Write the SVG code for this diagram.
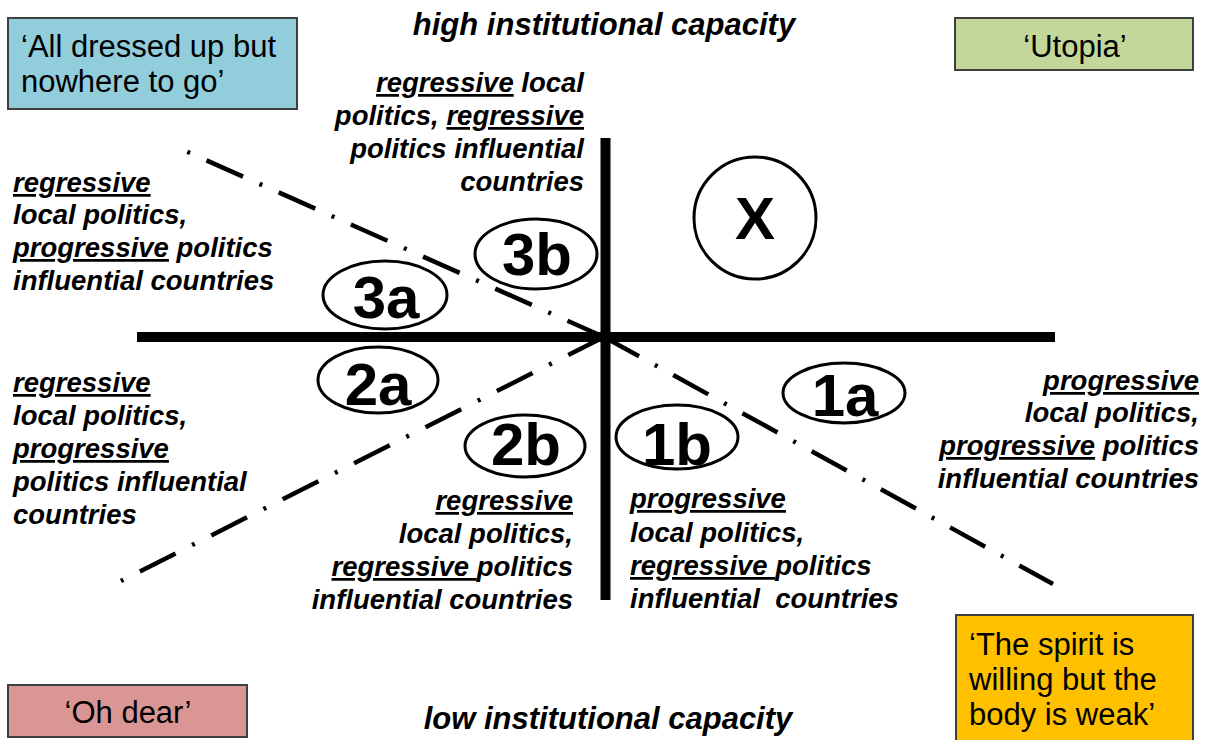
<svg xmlns="http://www.w3.org/2000/svg" width="1210" height="740" viewBox="0 0 1210 740">
<style>
.lbl{font-family:"Liberation Sans",Arial,sans-serif;font-weight:bold;font-style:italic;font-size:27.5px;fill:#000}
.end{text-anchor:end}
.u{text-decoration:underline}
.cap{font-family:"Liberation Sans",Arial,sans-serif;font-weight:bold;font-style:italic;font-size:31px;fill:#000;text-anchor:middle}
.box{stroke:#3f3f3f;stroke-width:2}
.boxt{font-family:"Liberation Sans",Arial,sans-serif;font-size:31px;fill:#000}
.mid{text-anchor:middle}
.oval{fill:none;stroke:#000;stroke-width:3}
.num{font-family:"Liberation Sans",Arial,sans-serif;font-weight:bold;font-size:60px;fill:#000;text-anchor:middle}
.axis{stroke:#000;stroke-width:10;fill:none}
.dd{stroke:#000;stroke-width:4.5;stroke-dasharray:40 18 3 18;fill:none}
</style>
<rect width="1210" height="740" fill="#fff"/>

<g id="connectors">
  <path class="dd" d="M604,337 L186.4,151.4"/>
  <path class="dd" d="M604,337 L1053,584"/>
  <path class="dd" d="M604,337 L121,581" style="stroke-dasharray:40 18.5 3 18.5"/>
  <path class="axis" d="M137,337 H1055"/>
  <path class="axis" d="M605.5,138 V600"/>
</g>

<g id="axis-high"><text class="cap" x="604" y="35">high institutional capacity</text></g>
<g id="axis-low"><text class="cap" x="608" y="729">low institutional capacity</text></g>

<g id="box-dressed">
  <rect class="box" x="8" y="18" width="289" height="91" fill="#92CDDC"/>
  <text class="boxt" x="21" y="57">‘All dressed up but</text>
  <text class="boxt" x="21" y="92">nowhere to go’</text>
</g>
<g id="box-utopia">
  <rect class="box" x="955" y="18" width="238" height="52" fill="#C4D79B"/>
  <text class="boxt mid" x="1075" y="57">‘Utopia’</text>
</g>
<g id="box-ohdear">
  <rect class="box" x="8" y="685" width="239" height="52" fill="#DA9694"/>
  <text class="boxt mid" x="128" y="723">‘Oh dear’</text>
</g>
<g id="box-spirit">
  <rect class="box" x="956" y="615" width="237" height="132" fill="#FFC000"/>
  <text class="boxt" x="969" y="655">‘The spirit is</text>
  <text class="boxt" x="969" y="690">willing but the</text>
  <text class="boxt" x="969" y="725">body is weak’</text>
</g>

<g id="node-X"><circle class="oval" cx="755" cy="218" r="61"/><text class="num" x="755" y="239" font-size="62">X</text></g>
<g id="node-3b"><ellipse class="oval" cx="536" cy="254" rx="61" ry="35"/><text class="num" x="537" y="275">3b</text></g>
<g id="node-3a"><ellipse class="oval" cx="385" cy="295" rx="62" ry="34"/><text class="num" x="386" y="318">3a</text></g>
<g id="node-2a"><ellipse class="oval" cx="378" cy="380" rx="60" ry="33"/><text class="num" x="378" y="405">2a</text></g>
<g id="node-2b"><ellipse class="oval" cx="525" cy="446" rx="60" ry="31"/><text class="num" x="526" y="465">2b</text></g>
<g id="node-1b"><ellipse class="oval" cx="677" cy="437" rx="61" ry="32"/><text class="num" x="677" y="465">1b</text></g>
<g id="node-1a"><ellipse class="oval" cx="844" cy="393" rx="61" ry="30"/><text class="num" x="845" y="416">1a</text></g>

<g id="text-3b">
  <text class="lbl end" x="584" y="92"><tspan class="u">regressive</tspan> local</text>
  <text class="lbl end" x="584" y="125">politics, <tspan class="u">regressive</tspan></text>
  <text class="lbl end" x="584" y="158">politics influential</text>
  <text class="lbl end" x="584" y="191">countries</text>
</g>
<g id="text-3a">
  <text class="lbl" x="13" y="192"><tspan class="u">regressive</tspan></text>
  <text class="lbl" x="13" y="224">local politics,</text>
  <text class="lbl" x="13" y="257"><tspan class="u">progressive</tspan> politics</text>
  <text class="lbl" x="13" y="290">influential countries</text>
</g>
<g id="text-2a">
  <text class="lbl" x="13" y="392"><tspan class="u">regressive</tspan></text>
  <text class="lbl" x="13" y="425">local politics,</text>
  <text class="lbl" x="13" y="458"><tspan class="u">progressive</tspan></text>
  <text class="lbl" x="13" y="491">politics influential</text>
  <text class="lbl" x="13" y="524">countries</text>
</g>
<g id="text-2b">
  <text class="lbl end" x="573" y="510"><tspan class="u">regressive</tspan></text>
  <text class="lbl end" x="573" y="543">local politics,</text>
  <text class="lbl end" x="573" y="576"><tspan class="u">regressive </tspan>politics</text>
  <text class="lbl end" x="573" y="609">influential countries</text>
</g>
<g id="text-1b">
  <text class="lbl" x="630" y="508"><tspan class="u">progressive</tspan></text>
  <text class="lbl" x="630" y="542">local politics,</text>
  <text class="lbl" x="630" y="575"><tspan class="u">regressive </tspan>politics</text>
  <text class="lbl" x="630" y="608" xml:space="preserve">influential  countries</text>
</g>
<g id="text-1a">
  <text class="lbl end" x="1199" y="390"><tspan class="u">progressive</tspan></text>
  <text class="lbl end" x="1199" y="422">local politics,</text>
  <text class="lbl end" x="1199" y="455"><tspan class="u">progressive</tspan> politics</text>
  <text class="lbl end" x="1199" y="488">influential countries</text>
</g>
</svg>
